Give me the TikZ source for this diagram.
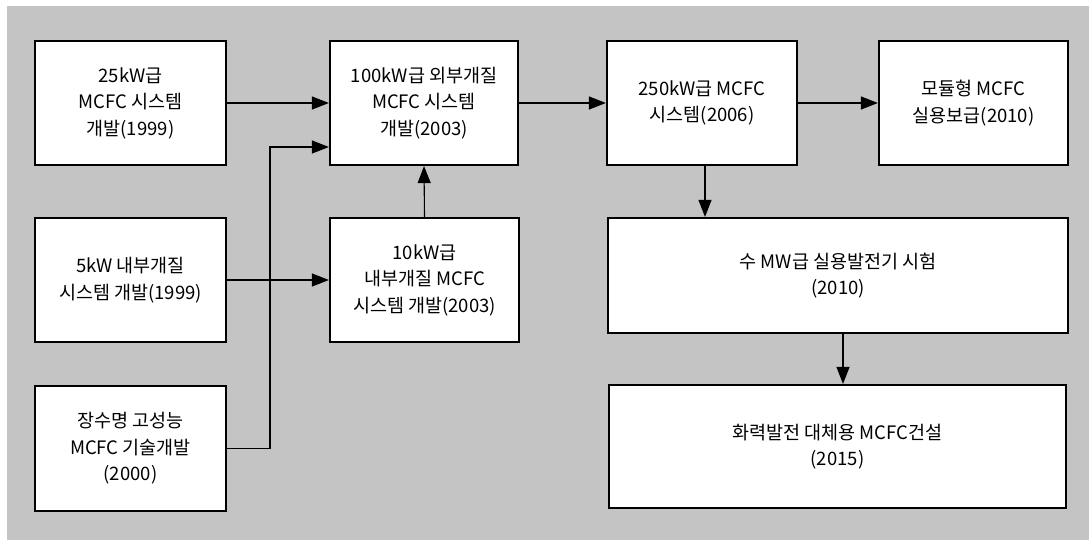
\documentclass[tikz,border=0pt]{standalone}
\usepackage{fontspec}
\setmainfont{Noto Sans CJK KR}
\usetikzlibrary{arrows.meta}
\definecolor{bggray}{gray}{0.77}
\tikzset{
  box/.style={draw=black, line width=2.2pt, fill=white, inner sep=0pt, align=center,
    font=\fontsize{18.5}{26.5}\selectfont},
  conn/.style={draw=black, line width=1.1pt, -{Triangle[length=17pt,width=13pt]}},
}
\begin{document}
\begin{tikzpicture}[x=1pt,y=-1pt]
\useasboundingbox (0,0) rectangle (1089,543);
\fill[white] (0,0) rectangle (1089,543);
\fill[bggray] (7,6) rectangle (1089,540);
\node[box, minimum width=191pt, minimum height=124pt] (A) at (130.5,103) {25kW급\\MCFC 시스템\\개발(1999)};
\node[box, minimum width=191pt, minimum height=124pt] (D) at (130.5,280) {5kW 내부개질\\시스템 개발(1999)};
\node[box, minimum width=191pt, minimum height=125pt] (E) at (130.5,448.5) {장수명 고성능\\MCFC 기술개발\\(2000)};
\node[box, minimum width=188pt, minimum height=124pt] (B) at (424,103) {100kW급 외부개질\\MCFC 시스템\\개발(2003)};
\node[box, minimum width=189pt, minimum height=124pt] (C) at (424.5,280) {10kW급\\내부개질 MCFC\\시스템 개발(2003)};
\node[box, minimum width=190pt, minimum height=124pt] (F) at (702,103) {250kW급 MCFC\\시스템(2006)};
\node[box, minimum width=189pt, minimum height=124pt] (G) at (973.5,103) {모듈형 MCFC\\실용보급(2010)};
\node[box, minimum width=460pt, minimum height=115pt] (H) at (838,275.5) {수 MW급 실용발전기 시험\\(2010)};
\node[box, minimum width=457pt, minimum height=123pt] (I) at (837.5,446.5) {화력발전 대체용 MCFC건설\\(2015)};
\coordinate (j) at (270,147);
\draw[conn] (A.east) -- (B.west);
\draw[conn] (E.east) -| (j) -- (j -| B.west);
\draw[conn] (D.east) -- (C.west);
\draw[conn] (C.north) -- (B.south);
\draw[conn] (B.east) -- (F.west);
\draw[conn] (F.east) -- (G.west);
\draw[conn] ([xshift=3pt]F.south) -- ([xshift=3pt]F.south |- H.north);
\draw[conn] ([xshift=5pt]H.south) -- ([xshift=5pt]H.south |- I.north);
\end{tikzpicture}
\end{document}
